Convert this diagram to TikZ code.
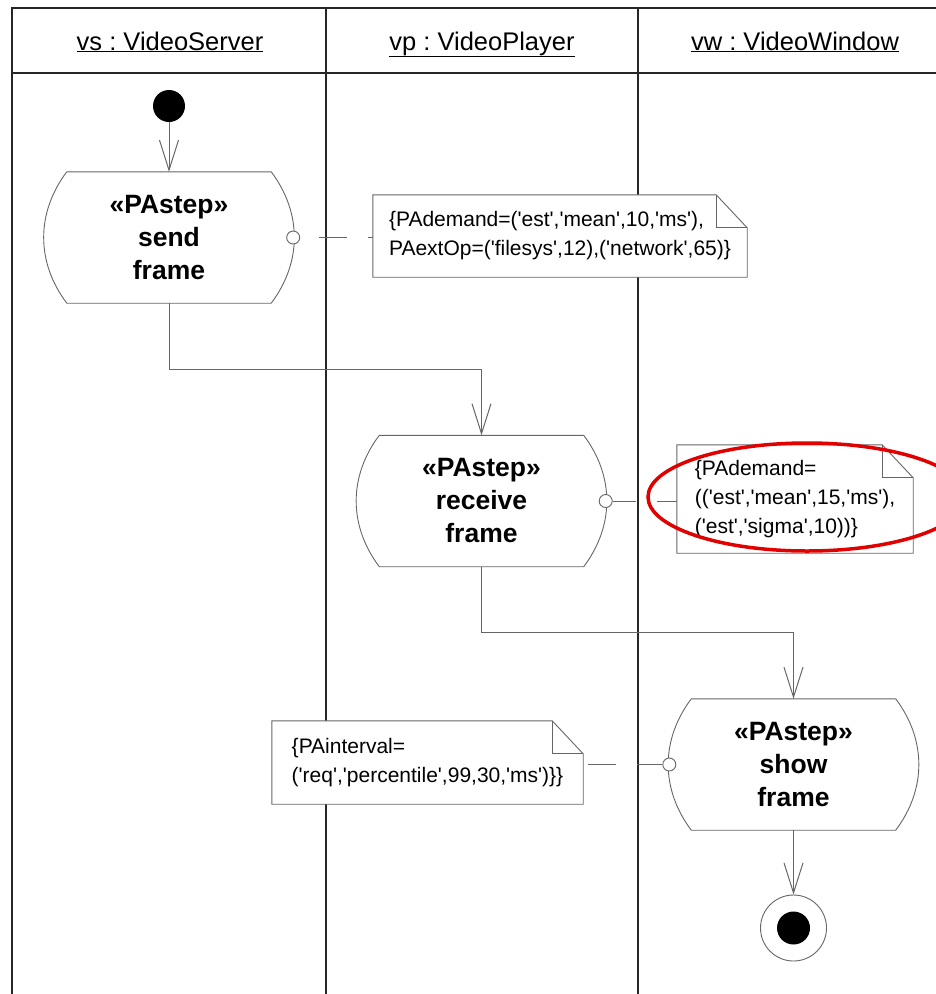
\documentclass[tikz,border=0pt]{standalone}
\usepackage{fontspec}
\setmainfont{Liberation Sans}[Ligatures=TeXOff]
\frenchspacing
\usepackage{tikz}
\usetikzlibrary{arrows.meta,positioning,calc,shapes.geometric}
\definecolor{markred}{HTML}{E00000}
\tikzset{
  lanerule/.style={line width=1.2pt,black!85},
  headnode/.style={anchor=base,font=\fontsize{25.5}{30}\selectfont},
  initnode/.style={circle,fill=black,minimum size=32pt,inner sep=0pt},
  actnode/.style={minimum width=248pt,minimum height=131pt,inner sep=0pt,align=center,
    font=\fontsize{26.5}{33}\selectfont\bfseries,
    append after command={\pgfextra{\draw[black!60,line width=0.9pt]
      ([xshift=22pt]\tikzlastnode.north west) -- ([xshift=-22pt]\tikzlastnode.north east)
      to[bend left=37] ([xshift=-22pt]\tikzlastnode.south east)
      -- ([xshift=22pt]\tikzlastnode.south west)
      to[bend left=37] ([xshift=22pt]\tikzlastnode.north west) -- cycle;}}},
  notenode/.style={inner sep=0pt,align=left,font=\fontsize{21}{29}\selectfont,
    append after command={\pgfextra{\filldraw[fill=white,draw=black!60,line width=0.9pt]
      (\tikzlastnode.south west) |- ([xshift=-31pt]\tikzlastnode.north east)
      -- ([yshift=-33pt]\tikzlastnode.north east) -- (\tikzlastnode.south east) -- cycle;
      \draw[black!60,line width=0.9pt] ([xshift=-31pt]\tikzlastnode.north east)
      |- ([yshift=-33pt]\tikzlastnode.north east);}}},
  pinnode/.style={circle,draw=black!60,fill=white,line width=0.9pt,minimum size=13pt,inner sep=0pt},
  finalnode/.style={circle,draw=black!60,fill=white,line width=0.9pt,minimum size=66pt,inner sep=0pt},
  dotnode/.style={circle,fill=black,minimum size=33pt,inner sep=0pt},
  ringnode/.style={ellipse,draw=markred,line width=3.5pt,minimum width=318pt,minimum height=108pt,inner sep=0pt},
  flowedge/.style={-{Straight Barb[length=30pt,width=19pt]},black!60,line width=1pt},
  noteedge/.style={black!60,line width=1pt,dash pattern=on 28pt off 21pt},
}
\begin{document}
\begin{tikzpicture}[x=1pt,y=-1pt]
  \useasboundingbox (0,0) rectangle (936,994);
  % swimlanes
  \draw[lanerule] (12,994) |- (936,8);
  \draw[lanerule] (12,73) -- (936,73);
  \foreach \x in {326,638} \draw[lanerule] (\x,8) -- (\x,994);
  \node[headnode] (hVS) at (170,50) {\underline{vs : VideoServer}};
  \node[headnode] (hVP) at (482,50) {\underline{vp : VideoPlayer}};
  \node[headnode] (hVW) at (795,50) {\underline{vw : VideoWindow}};
  % steps
  \node[initnode] (nInit) at (169,106) {};
  \node[actnode] (nSend) at (169,237.5) {«PAstep»\\send\\frame};
  \node[actnode] (nRecv) at (481.5,501) {«PAstep»\\receive\\frame};
  \node[actnode] (nShow) at (793.5,764.5) {«PAstep»\\show\\frame};
  \node[finalnode] (nFinal) at (793.5,928) {};
  \node[dotnode] (nDot) at (nFinal) {};
  \node[pinnode] (pSend) at (nSend.east) {};
  \node[pinnode] (pRecv) at (nRecv.east) {};
  \node[pinnode] (pShow) at (nShow.west) {};
  % notes
  \node[notenode,minimum width=374pt,minimum height=82pt] (nNoteA) at (560,236)
    {\{PAdemand=('est','mean',10,'ms'),\\PAextOp=('filesys',12),('network',65)\}};
  \node[notenode,minimum width=236pt,minimum height=108pt] (nNoteB) at (795,499)
    {\{PAdemand=\\(('est','mean',15,'ms'),\\('est','sigma',10))\}};
  \node[notenode,minimum width=311pt,minimum height=83pt] (nNoteC) at (427.5,762.5)
    {\{PAinterval=\\('req','percentile',99,30,'ms')\}\}};
  \node[ringnode] (nRing) at (807,497) {};
  % flow
  \draw[flowedge] (nInit) -- (nSend);
  \draw[flowedge] (nSend.south) |- ($(nSend.south)!0.5!(nRecv.north)$) -| (nRecv.north);
  \draw[flowedge] (nRecv.south) |- ($(nRecv.south)!0.5!(nShow.north)$) -| (nShow.north);
  \draw[flowedge] (nShow) -- (nFinal);
  \draw[noteedge,dash phase=23pt] (pSend -| nNoteA.west) -- (pSend);
  \draw[noteedge,dash phase=8pt] (pRecv -| nNoteB.west) -- (pRecv);
  \draw[noteedge,dash phase=44pt] (pShow -| nNoteC.east) -- (pShow);
\end{tikzpicture}
\end{document}
